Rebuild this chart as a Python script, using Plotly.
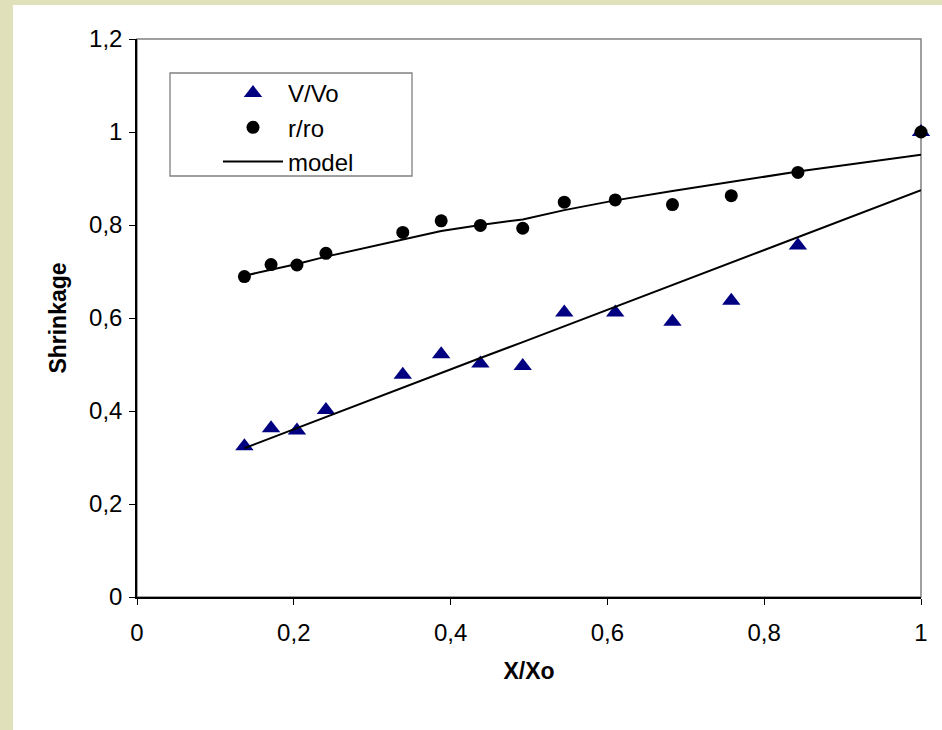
import plotly.graph_objects as go

# Measured points: relative moisture content vs shrinkage ratios
x_vals = [0.137, 0.171, 0.204, 0.241, 0.339, 0.388, 0.438, 0.492, 0.545, 0.610, 0.683, 0.758, 0.843, 1.0]
v_vo = [0.324, 0.363, 0.358, 0.402, 0.478, 0.522, 0.502, 0.497, 0.612, 0.612, 0.592, 0.637, 0.756, 1.0]
r_ro = [0.689, 0.715, 0.714, 0.739, 0.784, 0.809, 0.799, 0.793, 0.849, 0.854, 0.844, 0.863, 0.913, 1.0]

# Model curves evaluated at the same X/Xo values
model_v = [0.320, 0.342, 0.363, 0.387, 0.450, 0.481, 0.514, 0.548, 0.582, 0.624, 0.671, 0.719, 0.774, 0.875]
model_r = [0.691, 0.704, 0.716, 0.732, 0.768, 0.787, 0.800, 0.812, 0.832, 0.853, 0.873, 0.892, 0.915, 0.951]

x_ticks = [0, 0.2, 0.4, 0.6, 0.8, 1.0]
y_ticks = [0, 0.2, 0.4, 0.6, 0.8, 1.0, 1.2]

FONT = "Liberation Sans, Arial, sans-serif"
W, H = 942, 730
ML, MR, MT, MB = 137, 21, 39, 133
PW, PH = W - ML - MR, H - MT - MB


def px_x(p):
    return (p - ML) / PW


def px_y(p):
    return (H - MB - p) / PH


fig = go.Figure()

fig.add_trace(go.Scatter(
    x=x_vals, y=v_vo, mode="markers", name="V/Vo",
    marker=dict(symbol="triangle-up", size=16, color="#000080"),
    cliponaxis=False,
))
fig.add_trace(go.Scatter(
    x=x_vals, y=r_ro, mode="markers", name="r/ro",
    marker=dict(symbol="circle", size=13, color="black"),
    cliponaxis=False,
))
fig.add_trace(go.Scatter(
    x=x_vals, y=model_r, mode="lines", name="model", legendgroup="model",
    line=dict(color="black", width=2),
    cliponaxis=False,
))
fig.add_trace(go.Scatter(
    x=x_vals, y=model_v, mode="lines", name="model", legendgroup="model",
    showlegend=False,
    line=dict(color="black", width=2),
    cliponaxis=False,
))

shapes = [
    # white chart area over the beige page
    dict(type="rect", xref="paper", yref="paper", layer="below",
         x0=px_x(13), x1=px_x(W + 5), y0=px_y(H + 5), y1=px_y(5),
         fillcolor="white", line=dict(width=0)),
    # grey plot-area frame (top/right visible; left/bottom covered by axes)
    dict(type="rect", xref="paper", yref="paper", layer="below",
         x0=0, x1=1, y0=0, y1=1,
         line=dict(color="#808080", width=1.5)),
    # legend frame
    dict(type="rect", xref="paper", yref="paper", layer="above",
         x0=px_x(170), x1=px_x(412), y0=px_y(176), y1=px_y(73),
         fillcolor="white", line=dict(color="#808080", width=1.3)),
]

fig.update_layout(
    width=W, height=H,
    margin=dict(l=ML, r=MR, t=MT, b=MB),
    paper_bgcolor="#E0E0BA",
    plot_bgcolor="rgba(0,0,0,0)",
    separators=",.",
    font=dict(family=FONT, color="black", size=24),
    shapes=shapes,
    showlegend=True,
    legend=dict(
        x=px_x(218), y=px_y(71), xanchor="left", yanchor="top",
        bgcolor="rgba(0,0,0,0)", borderwidth=0,
        font=dict(family=FONT, size=24, color="black"),
        itemwidth=60, tracegroupgap=0,
    ),
    xaxis=dict(
        range=[0, 1], tickvals=x_ticks, showgrid=False, zeroline=False,
        showline=True, linecolor="black", linewidth=1.5,
        ticks="outside", ticklen=6, tickwidth=1.3, tickcolor="black",
        tickfont=dict(family=FONT, size=24, color="black"),
        ticklabelstandoff=7,
        title=dict(text="<b>X/Xo</b>", font=dict(family=FONT, size=23, color="black"),
                   standoff=18),
        fixedrange=True,
    ),
    yaxis=dict(
        range=[0, 1.2], tickvals=y_ticks, showgrid=False, zeroline=False,
        showline=True, linecolor="black", linewidth=1.5,
        ticks="outside", ticklen=6, tickwidth=1.3, tickcolor="black",
        tickfont=dict(family=FONT, size=24, color="black"),
        ticklabelstandoff=2,
        title=dict(text="<b>Shrinkage</b>", font=dict(family=FONT, size=23, color="black"),
                   standoff=16),
        fixedrange=True,
    ),
)

fig.write_html("out.html")
